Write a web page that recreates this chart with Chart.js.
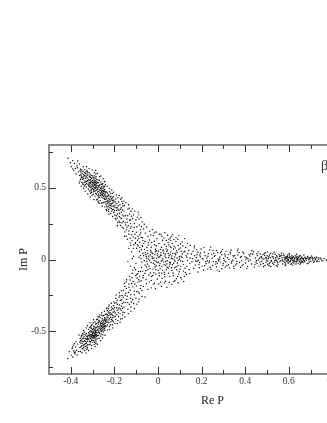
<!DOCTYPE html>
<html>
<head>
<meta charset="utf-8">
<title>Re P / Im P</title>
<script src="https://cdn.jsdelivr.net/npm/chart.js@4"></script>
<style>
    html, body { margin: 0; padding: 0; background: #fff; overflow: hidden; width: 327px; height: 423px; }
    #plot { display: block; }
</style>
</head>
<body>
<canvas id="plot" width="390" height="423"></canvas>
<script>
// Tick positions
const xLabelled = [-0.4, -0.2, 0, 0.2, 0.4, 0.6, 0.8, 1];
const xMinor = [-0.3, -0.1, 0.1, 0.3, 0.5, 0.7, 0.9];
const yLabelled = [-0.5, 0, 0.5];
const yMinor = [-0.75, -0.25, 0.25, 0.75];

// Points, [Re P, Im P]
const upperArm = [
[-.413,.707],[-.402,.676],[-.398,.648],[-.391,.692],[-.386,.621],[-.384,.671],[-.379,.636],[-.376,.598],[-.372,.655],[-.368,.688],[-.391,.633],[-.365,.612],[-.369,.641],[-.361,.667],
[-.347,.602],[-.331,.541],[-.356,.631],[-.322,.589],[-.338,.514],[-.351,.573],[-.326,.622],[-.343,.648],[-.359,.587],[-.334,.566],[-.329,.507],[-.349,.538],[-.324,.553],[-.341,.593],[-.353,.612],[-.336,.628],[-.321,.524],[-.345,.559],[-.358,.549],[-.328,.577],[-.339,.539],[-.333,.601],[-.354,.596],[-.323,.611],[-.346,.527],[-.331,.583],[-.357,.618],[-.327,.532],[-.342,.568],[-.335,.549],[-.352,.583],[-.325,.569],[-.344,.615],[-.337,.586],[-.322,.548],[-.348,.572],[-.33,.614],[-.355,.561],[-.34,.526],[-.326,.598],[-.35,.626],[-.332,.522],[-.343,.581],[-.328,.546],[-.336,.607],
[-.309,.574],[-.288,.497],[-.316,.521],[-.294,.561],[-.303,.448],[-.282,.532],[-.311,.596],[-.297,.512],[-.286,.462],[-.318,.557],[-.291,.538],[-.306,.489],[-.284,.579],[-.313,.508],[-.299,.584],[-.289,.519],[-.308,.539],[-.281,.486],[-.315,.578],[-.295,.473],[-.302,.526],[-.287,.551],[-.31,.463],[-.292,.503],[-.317,.534],[-.283,.514],[-.305,.567],[-.298,.548],[-.29,.476],[-.312,.552],[-.285,.597],[-.3,.494],[-.307,.514],[-.293,.526],[-.319,.493],[-.282,.456],[-.304,.588],[-.296,.534],[-.288,.568],[-.314,.479],[-.301,.552],[-.286,.507],[-.31,.529],[-.297,.456],[-.291,.584],[-.306,.544],[-.283,.543],[-.316,.606],[-.294,.491],[-.302,.571],[-.289,.443],[-.308,.501],[-.285,.526],[-.299,.518],[-.312,.583],[-.292,.548],[-.305,.468],[-.287,.483],[-.318,.514],[-.295,.572],[-.281,.561],[-.303,.507],[-.29,.521],[-.309,.557],[-.296,.486],[-.284,.501],[-.313,.538],[-.3,.537],[-.288,.536],[-.307,.479],[-.293,.608],
[-.263,.496],[-.244,.421],[-.272,.458],[-.251,.513],[-.278,.537],[-.258,.436],[-.268,.521],[-.246,.474],[-.275,.407],[-.255,.482],[-.241,.523],[-.27,.487],[-.261,.452],[-.249,.441],[-.277,.493],[-.253,.531],[-.265,.412],[-.243,.451],[-.273,.512],[-.257,.467],[-.248,.506],[-.267,.471],[-.276,.448],[-.252,.398],[-.262,.541],[-.245,.489],[-.271,.431],[-.259,.508],[-.25,.462],[-.279,.518],[-.264,.447],[-.242,.403],[-.274,.476],[-.254,.448],[-.269,.554],[-.247,.428],[-.26,.486],[-.277,.422],[-.256,.524],[-.243,.476],[-.266,.504],[-.251,.474],[-.272,.536],[-.258,.395],[-.245,.512],[-.263,.463],[-.275,.501],[-.249,.483],[-.268,.436],[-.255,.456],[-.24,.438],[-.27,.517],[-.261,.526],[-.248,.397],[-.278,.471],[-.253,.429],[-.265,.483],[-.244,.543],[-.273,.443],[-.257,.499],[-.246,.453],[-.267,.392],[-.252,.496],[-.276,.556],[-.259,.473],[-.242,.466],
[-.223,.418],[-.204,.352],[-.232,.463],[-.211,.391],[-.238,.386],[-.216,.441],[-.227,.349],[-.208,.432],[-.235,.428],[-.219,.376],[-.202,.407],[-.229,.398],[-.213,.338],[-.236,.472],[-.206,.374],[-.225,.447],[-.218,.408],[-.233,.361],[-.209,.462],[-.221,.362],[-.239,.421],[-.215,.386],[-.226,.427],[-.203,.328],[-.231,.441],[-.212,.426],[-.237,.348],[-.207,.396],[-.224,.381],[-.217,.461],[-.234,.406],[-.205,.441],[-.228,.372],[-.214,.357],[-.222,.473],[-.21,.412],[-.238,.443],[-.22,.392],[-.23,.412],[-.201,.367],[-.226,.336],[-.215,.423],[-.233,.391],[-.209,.348],[-.219,.437],[-.236,.373],[-.204,.416],[-.228,.451],[-.212,.373],[-.224,.403],
[-.183,.351],[-.167,.286],[-.196,.402],[-.174,.383],[-.191,.306],[-.163,.346],[-.178,.268],[-.188,.362],[-.171,.421],[-.199,.341],[-.165,.257],[-.181,.403],[-.193,.277],[-.176,.323],[-.161,.374],[-.186,.318],[-.169,.362],[-.197,.379],[-.173,.291],[-.184,.432],[-.19,.342],[-.164,.312],[-.179,.344],[-.194,.423],[-.168,.331],[-.187,.289],[-.175,.258],[-.162,.391],[-.182,.376],[-.198,.311],[-.172,.351],[-.189,.391],[-.166,.406],[-.177,.301],[-.192,.362],[-.185,.259],
[-.143,.283],[-.127,.219],[-.156,.338],[-.134,.176],[-.148,.241],[-.122,.302],[-.152,.193],[-.138,.352],[-.125,.251],[-.159,.268],[-.131,.318],[-.145,.207],[-.121,.173],[-.154,.376],[-.136,.236],[-.149,.306],[-.128,.148],[-.141,.261],[-.158,.219],[-.124,.337],[-.133,.199],[-.151,.256],[-.139,.306],[-.126,.276],[-.146,.163],[-.157,.304],[-.123,.229],[-.135,.383],[-.142,.226],[-.13,.276],
[-.108,.251],[-.092,.163],[-.116,.196],[-.087,.283],[-.103,.118],[-.081,.207],[-.112,.312],[-.097,.229],[-.084,.121],[-.106,.176],[-.119,.132],[-.091,.331],[-.101,.276],[-.077,.154],[-.114,.158],[-.086,.241],[-.094,.104],[-.073,.263],[-.109,.226],[-.079,.186],[-.099,.191],[-.117,.286],[-.069,.132],[-.088,.146],[-.104,.148],[-.066,.213],[-.111,.103],[-.076,.231],[-.095,.296],[-.083,.173]
];

const lowerArm = [
[-.414,-.692],[-.398,-.668],[-.407,-.644],[-.391,-.681],[-.386,-.639],[-.394,-.622],[-.381,-.658],[-.378,-.612],[-.389,-.598],[-.374,-.634],[-.371,-.667],[-.392,-.611],[-.376,-.574],[-.384,-.652],[-.368,-.591],[-.379,-.646],[-.364,-.643],[-.383,-.589],
[-.347,-.621],[-.331,-.552],[-.356,-.643],[-.322,-.596],[-.338,-.508],[-.351,-.562],[-.326,-.628],[-.343,-.598],[-.359,-.576],[-.334,-.574],[-.329,-.517],[-.349,-.529],[-.324,-.561],[-.341,-.613],[-.353,-.607],[-.336,-.636],[-.321,-.531],[-.345,-.553],[-.358,-.614],[-.328,-.583],[-.339,-.537],[-.333,-.607],[-.354,-.584],[-.323,-.617],[-.346,-.518],[-.331,-.589],[-.357,-.552],[-.327,-.538],[-.342,-.572],[-.335,-.551],[-.352,-.541],[-.325,-.574],[-.344,-.625],[-.337,-.591],[-.322,-.552],[-.348,-.586],[-.33,-.619],[-.355,-.568],[-.34,-.524],[-.326,-.604],[-.35,-.602],[-.332,-.528],[-.343,-.548],[-.328,-.558],[-.336,-.566],[-.347,-.574],[-.323,-.542],[-.339,-.597],[-.351,-.533],
[-.309,-.574],[-.288,-.491],[-.316,-.521],[-.294,-.553],[-.303,-.456],[-.282,-.527],[-.311,-.592],[-.297,-.508],[-.286,-.452],[-.318,-.557],[-.291,-.534],[-.306,-.484],[-.284,-.574],[-.313,-.503],[-.299,-.579],[-.289,-.513],[-.308,-.536],[-.281,-.476],[-.315,-.571],[-.295,-.468],[-.302,-.522],[-.287,-.546],[-.31,-.467],[-.292,-.497],[-.317,-.532],[-.283,-.509],[-.305,-.562],[-.298,-.543],[-.29,-.471],[-.312,-.548],[-.285,-.587],[-.3,-.489],[-.307,-.508],[-.293,-.523],[-.319,-.488],[-.282,-.448],[-.304,-.601],[-.296,-.531],[-.288,-.562],[-.314,-.476],[-.301,-.548],[-.286,-.503],[-.31,-.526],[-.297,-.442],[-.291,-.578],[-.306,-.541],[-.283,-.538],[-.316,-.596],[-.294,-.486],[-.302,-.566],[-.289,-.437],[-.308,-.498],[-.285,-.522],[-.299,-.513],[-.312,-.577],[-.292,-.543],[-.305,-.462],[-.287,-.478],[-.318,-.511],[-.295,-.567],[-.281,-.556],[-.303,-.502],[-.29,-.517],[-.309,-.552],[-.296,-.481],[-.284,-.496],[-.313,-.534],[-.3,-.533],[-.288,-.531],[-.307,-.474],[-.293,-.594],[-.298,-.504],[-.306,-.527],[-.291,-.516],[-.287,-.508],[-.301,-.518],[-.295,-.539],
[-.263,-.491],[-.244,-.416],[-.272,-.453],[-.251,-.507],[-.278,-.532],[-.258,-.431],[-.268,-.516],[-.246,-.468],[-.275,-.402],[-.255,-.477],[-.241,-.383],[-.27,-.482],[-.261,-.447],[-.249,-.436],[-.277,-.488],[-.253,-.526],[-.265,-.406],[-.243,-.446],[-.273,-.507],[-.257,-.462],[-.248,-.391],[-.267,-.466],[-.276,-.443],[-.252,-.393],[-.262,-.536],[-.245,-.484],[-.271,-.426],[-.259,-.503],[-.25,-.457],[-.279,-.513],[-.264,-.442],[-.242,-.426],[-.274,-.471],[-.254,-.443],[-.269,-.549],[-.247,-.423],[-.26,-.481],[-.277,-.417],[-.256,-.414],[-.243,-.471],[-.266,-.499],[-.251,-.469],[-.272,-.531],[-.258,-.39],[-.245,-.407],[-.263,-.458],[-.275,-.496],[-.249,-.478],[-.268,-.431],[-.255,-.451],[-.24,-.433],[-.27,-.512],[-.261,-.521],[-.248,-.452],[-.278,-.466],[-.253,-.424],[-.265,-.478],[-.244,-.496],[-.273,-.438],[-.257,-.494],[-.246,-.448],[-.267,-.387],[-.252,-.491],[-.276,-.551],[-.259,-.468],[-.242,-.461],
[-.223,-.413],[-.204,-.347],[-.232,-.458],[-.211,-.386],[-.238,-.381],[-.216,-.436],[-.227,-.344],[-.208,-.427],[-.235,-.423],[-.219,-.371],[-.202,-.402],[-.229,-.393],[-.213,-.333],[-.236,-.467],[-.206,-.369],[-.225,-.442],[-.218,-.403],[-.233,-.356],[-.209,-.457],[-.221,-.357],[-.239,-.416],[-.215,-.381],[-.226,-.422],[-.203,-.323],[-.231,-.436],[-.212,-.421],[-.237,-.343],[-.207,-.391],[-.224,-.376],[-.217,-.456],[-.234,-.401],[-.205,-.436],[-.228,-.367],[-.214,-.352],[-.222,-.468],[-.21,-.407],[-.238,-.438],[-.22,-.387],[-.23,-.407],[-.201,-.362],[-.226,-.331],[-.215,-.418],[-.233,-.386],[-.209,-.343],
[-.183,-.346],[-.167,-.281],[-.196,-.397],[-.174,-.378],[-.191,-.301],[-.163,-.341],[-.178,-.263],[-.188,-.357],[-.171,-.416],[-.199,-.336],[-.165,-.252],[-.181,-.398],[-.193,-.272],[-.176,-.318],[-.161,-.369],[-.186,-.313],[-.169,-.357],[-.197,-.374],[-.173,-.286],[-.184,-.427],[-.19,-.337],[-.164,-.307],[-.179,-.339],[-.194,-.418],[-.168,-.326],[-.187,-.284],[-.175,-.253],[-.162,-.386],[-.182,-.371],[-.198,-.306],[-.172,-.346],[-.189,-.386],
[-.143,-.278],[-.127,-.214],[-.156,-.333],[-.134,-.171],[-.148,-.236],[-.122,-.297],[-.152,-.188],[-.138,-.347],[-.125,-.246],[-.159,-.263],[-.131,-.313],[-.145,-.202],[-.121,-.168],[-.154,-.371],[-.136,-.231],[-.149,-.301],[-.128,-.143],[-.141,-.256],[-.158,-.214],[-.124,-.332],[-.133,-.194],[-.151,-.251],[-.139,-.301],[-.126,-.271],[-.146,-.158],[-.157,-.299],
[-.108,-.246],[-.092,-.158],[-.116,-.191],[-.087,-.278],[-.103,-.113],[-.081,-.202],[-.112,-.307],[-.097,-.224],[-.084,-.116],[-.106,-.171],[-.119,-.127],[-.091,-.226],[-.101,-.271],[-.077,-.149],[-.114,-.153],[-.086,-.236],[-.094,-.099],[-.073,-.258],[-.109,-.221],[-.079,-.181],[-.099,-.186],[-.117,-.281],[-.069,-.127],[-.088,-.141]
];

const centerBlob = [
[.021,.134],[-.037,-.063],[.088,.047],[-.112,.023],[.054,-.118],[-.008,.096],[.117,-.034],[-.071,.152],[.036,.012],[-.055,-.141],[.103,.108],[.009,-.027],[-.127,-.046],[.071,.073],[-.024,.041],[.132,.016],[-.089,-.084],[.047,-.061],[-.016,-.166],[.094,-.102],[.002,.058],[-.062,.071],[.079,-.013],[-.103,.112],[.029,-.089],[.141,.063],[-.044,.003],[.062,.163],[-.013,-.052],[.112,.038],[-.081,.029],[.014,.177],[-.134,.078],[.086,-.072],[-.029,.118],[.051,.026],[-.096,-.129],[.124,-.061],[.006,-.114],[-.051,.084],[.073,-.154],[-.006,.008],[.039,.092],[-.074,-.018],[.099,.003],[-.019,-.092],[.146,-.027],[-.116,-.074],[.024,.067],[-.039,.136],[.066,-.037],[-.085,.058],[.108,-.137],[.011,.031],[-.059,-.038],[.082,.126],[-.003,-.136],[.043,-.008],[-.101,-.027],[.127,.084],[-.027,.019],[.058,.052],[-.068,-.112],[.018,-.048],[.096,.072],[-.012,.072],[.034,-.152],[-.047,.042],[.076,.018],[-.091,.094],[.116,-.081],[.001,-.076],[-.032,-.021],[.049,.102],[-.121,.053],[.069,-.094],[-.056,-.079],[.027,.151],[.104,-.011],[-.017,.127],[.137,.041],[-.078,.006],[.041,-.031],[-.009,-.012],[.091,.141],[-.042,-.108],[.061,.009],[-.065,.113],[.016,.086],[.121,-.118],[-.023,-.067],[.083,-.051],[.004,.112],[-.108,-.058],[.056,.036],[-.034,.064],[.147,.011],[-.052,.009],[.031,-.121],[.074,.093],[-.002,.026],[-.083,-.151],[.107,.056],[.019,-.006],[-.048,-.031],[.064,-.076],[-.021,.167],[.089,-.024],[-.094,.134],[.012,-.158],[.133,-.048],[-.036,.031],[.046,.118],[-.069,.044],[.026,.044],[-.011,.054],[.098,.021],[-.118,.007],[.052,-.046],[-.061,-.097],[.114,.094],[.007,-.042],[-.029,-.119],[.078,.044],[-.045,.101],[.038,-.072],[-.087,.016],[.129,.027],[-.015,-.034],[.059,.132],[-.075,-.056],[.022,.003],[.101,-.068],[-.005,.146],[.044,.066],[-.098,-.106],[.084,-.134],[-.031,.086],[.067,.006],[-.054,.021],[.033,.038],[.119,.052],[-.018,-.007],[.092,-.043],[-.072,.096],[.008,.018],[-.041,-.047],[.072,-.026],[.017,-.096],[-.026,.007],[.053,-.018],[-.063,-.009],[.037,.074],[.002,-.018],[-.033,.053],[.081,.033],[.013,.048],[-.049,.062],[.028,-.036],[.063,.024],[-.014,.034],[.093,-.006],[-.058,.048],[.042,-.054],[-.007,-.043],[.048,.013],[-.022,-.026],[.077,-.058],[.032,.024],[-.046,-.071],[.106,.023],[-.003,.041],[.057,-.021],[-.038,-.006],[.023,.061],[.068,.042],[-.01,-.071],[.087,.011],[-.028,.047],[.003,.016],[.035,-.014],[-.053,-.052],[.113,-.014],[.015,.029],[.097,-.086],[-.076,.068],[.06,.083],[-.019,.011],[.126,-.091],[.04,.056],[-.066,.027],[.085,.061],[.01,-.064],[-.043,.023],[.075,-.003],[.025,-.018],[-.004,-.021],[.055,-.031],[.136,-.006],[.05,.141],[-.125,.099],[.143,-.071],[-.138,-.013],[.03,-.103],[-.06,.126],[.065,.112],[-.035,-.094],[.102,.081]
];

const rightArm = [
[.231,.041],[.164,-.062],[.287,-.018],[.198,.073],[.352,.029],[.176,.014],[.268,-.051],[.413,.006],[.153,.038],[.312,.057],[.221,-.029],[.386,-.043],[.183,-.087],[.259,.021],[.339,-.012],[.207,.003],[.434,.037],[.296,.071],[.167,.094],[.378,.016],[.243,-.069],[.191,-.021],[.323,-.036],[.274,.048],[.402,-.024],[.156,-.016],[.213,.052],[.364,.061],[.248,.009],[.442,-.053],[.304,-.007],[.179,.033],[.281,-.083],[.347,-.047],[.226,-.009],[.393,.044],[.161,.058],[.319,.013],[.264,-.032],[.202,-.046],[.421,.024],[.292,.034],[.374,-.021],[.186,-.006],[.237,.066],[.333,.039],[.254,-.014],[.408,-.062],[.171,-.039],[.299,-.028],[.356,.008],[.216,.027],[.447,.011],[.276,.004],[.195,.046],[.384,-.008],[.328,-.059],[.242,.087],[.159,.006],[.308,.024],[.429,-.031],[.268,.062],[.209,-.073],[.367,.032],[.183,.051],[.343,-.004],[.287,.047],[.224,.011],[.399,.019],[.251,-.042],[.173,-.011],[.316,-.043],[.438,.052],[.194,.019],[.361,-.029],[.278,-.009],[.234,-.022],[.416,-.011],[.301,.008],[.168,.026],[.335,.066],[.262,.029],[.204,.008],[.391,-.034],[.449,-.018],[.246,.036],[.325,.001],[.188,-.034],[.372,.049],[.293,-.064],[.219,-.016],[.426,.041],[.348,.018],[.272,-.026],[.177,.069],[.404,.003],[.311,-.016],[.239,-.056],[.357,-.038],[.283,.017],
[.512,.031],[.468,-.018],[.543,-.041],[.487,.042],[.529,.008],[.456,.027],[.561,.024],[.503,-.033],[.478,.006],[.552,.004],[.521,-.012],[.463,-.046],[.537,.037],[.494,.014],[.572,-.031],[.508,.019],[.483,-.028],[.546,.017],[.459,.052],[.526,-.026],[.498,-.004],[.564,-.009],[.473,.021],[.534,-.019],[.517,.044],[.452,-.009],[.556,.033],[.491,-.042],[.541,.002],[.476,-.012],[.569,.012],[.506,.007],[.524,.022],[.466,.009],[.549,-.023],[.489,.029],[.531,-.036],[.514,-.021],[.481,.034],[.559,-.015],[.501,.026],[.471,-.034],[.539,.013],[.519,-.007],[.496,-.019],[.567,.028],[.454,-.027],[.544,.026],[.509,-.044],[.486,.003],[.527,.039],[.551,-.034],[.474,.016],[.536,-.006],[.461,-.003],[.516,.012],[.492,.047],[.558,.008],[.504,-.011],[.547,-.013],
[.621,.019],[.584,-.024],[.657,-.011],[.603,.032],[.642,.004],[.593,.011],[.674,.016],[.612,-.029],[.634,-.017],[.578,.026],[.665,-.022],[.598,-.006],[.651,.024],[.617,.009],[.586,-.036],[.629,.029],[.606,-.014],[.681,-.006],[.574,-.012],[.643,-.027],[.624,-.003],[.594,.021],[.668,.006],[.611,.016],[.637,.014],[.582,.003],[.654,.002],[.601,-.019],[.688,.012],[.619,-.021],[.591,-.009],[.647,.019],[.627,.006],[.576,.038],[.662,-.014],[.608,.005],[.633,-.031],[.589,.017],[.672,-.016],[.614,.026],[.641,-.008],[.597,-.026],[.658,.011],[.622,-.011],[.581,-.018],[.648,-.004],[.604,.013],[.678,.004],[.631,.018],[.587,.007],[.656,-.019],[.616,-.005],[.595,.031],[.639,.008],[.664,.009],[.609,-.034],[.626,.011],[.583,-.003],[.652,.028],[.599,.002],[.636,-.012],[.671,-.009],[.613,.003],[.644,.013],[.592,-.015],[.623,-.025],[.66,.017],[.605,.022],[.579,.013],[.638,.023],[.618,.014],[.649,-.015],[.59,.009],[.628,-.014],[.666,.001],[.607,-.009],[.635,.003],[.655,-.024],[.6,.015],[.676,.011],
[.702,.009],[.731,-.008],[.694,-.017],[.718,.012],[.748,.004],[.709,-.004],[.686,.021],[.726,.017],[.691,-.002],[.739,-.013],[.714,-.019],[.698,.016],[.756,-.006],[.722,.002],[.705,.024],[.744,.011],[.689,-.027],[.711,.006],[.734,.013],[.696,.004],[.762,.007],[.717,-.011],[.728,-.014],[.701,-.012],[.737,.003],[.772,-.003],[.708,.014],[.693,.011],[.724,.006],[.752,-.009]
];

// Thin outer scatter along the arms and round the middle
const outerScatter = [
[-.352,.512],[-.361,.534],[-.341,.498],[-.328,.648],[-.316,.637],[-.334,.476],[-.322,.458],[-.302,.626],[-.311,.437],[-.294,.418],[-.286,.622],[-.278,.601],[-.281,.417],[-.272,.398],[-.262,.583],[-.268,.578],[-.256,.372],[-.252,.564],[-.244,.368],[-.246,.546],[-.236,.341],[-.233,.512],[-.226,.318],[-.223,.497],[-.217,.322],[-.212,.486],[-.208,.301],[-.203,.471],[-.196,.287],[-.191,.451],[-.186,.236],[-.178,.447],[-.172,.238],[-.166,.431],[-.164,.226],[-.156,.408],[-.154,.162],[-.147,.396],[-.141,.142],[-.132,.358],[-.127,.116],[-.118,.354],[-.113,.078],[-.106,.338],[-.098,.079],[-.088,.312],[-.078,.293],[-.071,.091],[-.063,.246],[-.058,.184],[-.052,.227],[-.046,.163],[-.038,.198],[-.033,.172],[-.026,.209],[-.018,.186],[-.009,.192],[.006,.176],[.018,.162],[.031,.187],[.044,.169],[.057,.151],[.068,.174],[.083,.153],[.096,.167],[.111,.122],[.122,.146],[.135,.113],[.148,.098],
[-.362,-.528],[-.349,-.652],[-.341,-.496],[-.331,-.654],[-.318,-.636],[-.329,-.478],[-.324,-.463],[-.306,-.622],[-.312,-.441],[-.296,-.421],[-.288,-.607],[-.282,-.421],[-.278,-.592],[-.27,-.398],[-.264,-.568],[-.258,-.372],[-.254,-.548],[-.246,-.362],[-.243,-.529],[-.234,-.338],[-.231,-.492],[-.224,-.318],[-.221,-.488],[-.214,-.306],[-.208,-.478],[-.203,-.296],[-.198,-.446],[-.192,-.248],[-.186,-.448],[-.178,-.232],[-.174,-.438],[-.168,-.218],[-.164,-.412],[-.154,-.168],[-.152,-.402],[-.144,-.142],[-.136,-.378],[-.13,-.118],[-.124,-.361],[-.118,-.097],[-.108,-.342],[-.103,-.071],[-.097,-.312],[-.089,-.296],[-.08,-.084],[-.074,-.216],[-.067,-.188],[-.06,-.262],[-.053,-.168],[-.047,-.209],[-.04,-.156],[-.031,-.198],[-.022,-.172],[-.012,-.204],[.004,-.171],[.016,-.188],[.028,-.164],[.041,-.196],[.052,-.159],[.064,-.174],[.078,-.148],[.092,-.162],[.104,-.126],[.118,-.153],[.131,-.104],[.146,-.097],
[.031,.107],[-.008,.061],[.062,-.058],[.019,-.131],[-.051,-.014],[.092,.098],[.011,.071],[-.031,-.146],[.048,-.096],[.079,.081],[-.015,.103],[.038,.133],[.104,-.046],[-.044,.118],[.021,-.074],[.07,-.114],[-.07,-.081],[.056,.089],[.123,.058],[-.024,-.111],[.005,-.094],[.09,-.118],[.035,-.041],[-.056,.034],[.073,.139],[-.083,.083],[.015,-.011],[.11,.014],[.047,.042],[-.01,-.101],
[.166,.081],[.189,-.058],[.211,.083],[.228,-.067],[.252,.063],[.271,-.074],[.291,.058],[.309,-.052],[.331,.051],[.349,-.063],[.368,.074],[.389,.053],[.411,-.048],[.431,.063],[.214,-.044],[.256,.044],[.298,-.041],[.337,-.024],[.379,-.054],[.418,.034],[.192,.031],[.236,-.011],[.283,.002],[.322,.036],[.362,-.012],[.407,.012],[.445,-.034],[.18,-.012],[.229,.023],[.266,-.016],[.306,.039],[.344,.027],[.383,.021],[.424,-.004],[.453,.041],[.469,.039],[.484,-.051],[.502,.053],[.518,-.049],[.533,.051],[.548,-.047],[.566,.044],[.583,-.042],[.602,.042],[.618,-.039],[.636,.037],[.651,-.033],[.669,.031],[.684,-.029],[.497,.011],[.511,-.029],[.528,.017],[.542,-.009],[.557,.021],[.571,-.004],[.585,.018],[.596,-.002],[.61,.008],[.625,-.008],[.64,.002],[.653,.006],[.667,-.003],[.682,.007]
];

const betaLabel = 'β';

// Inward ticks, frame lines and the β label
const framePlugin = {
    id: 'frame',
    afterDraw(chart) {
        const { ctx, chartArea: a, scales: { x, y } } = chart;
        ctx.save();
        ctx.strokeStyle = '#8a8a8a';
        ctx.lineWidth = 2;
        ctx.strokeRect(a.left, a.top, a.right - a.left, a.bottom - a.top);

        ctx.strokeStyle = '#333';
        ctx.lineWidth = 1;
        const tick = (x1, y1, x2, y2) => {
            ctx.beginPath();
            ctx.moveTo(x1, y1);
            ctx.lineTo(x2, y2);
            ctx.stroke();
        };
        const drawX = (v, len) => {
            const px = Math.round(x.getPixelForValue(v)) + 0.5;
            tick(px, a.bottom, px, a.bottom - len);
            tick(px, a.top, px, a.top + len);
        };
        const drawY = (v, len) => {
            const py = Math.round(y.getPixelForValue(v)) + 0.5;
            tick(a.left, py, a.left + len, py);
        };
        xLabelled.forEach(v => drawX(v, 7));
        xMinor.forEach(v => drawX(v, 4));
        yLabelled.forEach(v => drawY(v, 7));
        yMinor.forEach(v => drawY(v, 4));

        ctx.fillStyle = '#333';
        ctx.font = '14px "Liberation Serif"';
        ctx.textAlign = 'left';
        ctx.textBaseline = 'middle';
        ctx.fillText(betaLabel, x.getPixelForValue(0.748), y.getPixelForValue(0.65));
        ctx.restore();
    }
};

const pointStyle = { backgroundColor: '#000', borderWidth: 0, pointRadius: 0.7, pointHoverRadius: 0.7 };
const toPoints = arr => arr.map(p => ({ x: p[0], y: p[1] }));

new Chart(document.getElementById('plot').getContext('2d'), {
    type: 'scatter',
    data: {
        datasets: [
            { label: 'upper', data: toPoints(upperArm), ...pointStyle },
            { label: 'lower', data: toPoints(lowerArm), ...pointStyle },
            { label: 'center', data: toPoints(centerBlob), ...pointStyle },
            { label: 'right', data: toPoints(rightArm), ...pointStyle },
            { label: 'outer', data: toPoints(outerScatter), ...pointStyle }
        ]
    },
    options: {
        responsive: false,
        animation: false,
        layout: { padding: { top: 145, right: 14, left: 0, bottom: 0 } },
        plugins: { legend: { display: false }, tooltip: { enabled: false } },
        scales: {
            x: {
                type: 'linear',
                min: -0.5,
                max: 1,
                afterBuildTicks: s => { s.ticks = xLabelled.map(v => ({ value: v })); },
                afterFit: s => { s.height = 49; },
                grid: { display: false, drawTicks: false },
                border: { display: false },
                ticks: {
                    autoSkip: false,
                    maxRotation: 0,
                    padding: 2,
                    color: '#333',
                    font: { family: 'Liberation Serif', size: 9.5 },
                    callback: v => String(v)
                },
                title: {
                    display: true,
                    text: 'Re P',
                    color: '#222',
                    font: { family: 'Liberation Serif', size: 12 },
                    padding: { top: 6, bottom: 15 }
                }
            },
            y: {
                type: 'linear',
                min: -0.8,
                max: 0.8,
                afterBuildTicks: s => { s.ticks = yLabelled.map(v => ({ value: v })); },
                afterFit: s => { s.width = 49; },
                grid: { display: false, drawTicks: false },
                border: { display: false },
                ticks: {
                    autoSkip: false,
                    padding: 3,
                    color: '#333',
                    font: { family: 'Liberation Serif', size: 9.5 },
                    callback: v => String(v)
                },
                title: {
                    display: true,
                    text: 'Im P',
                    color: '#222',
                    font: { family: 'Liberation Serif', size: 12 },
                    padding: { top: 17, bottom: 4 }
                }
            }
        }
    },
    plugins: [framePlugin]
});
</script>
</body>
</html>
